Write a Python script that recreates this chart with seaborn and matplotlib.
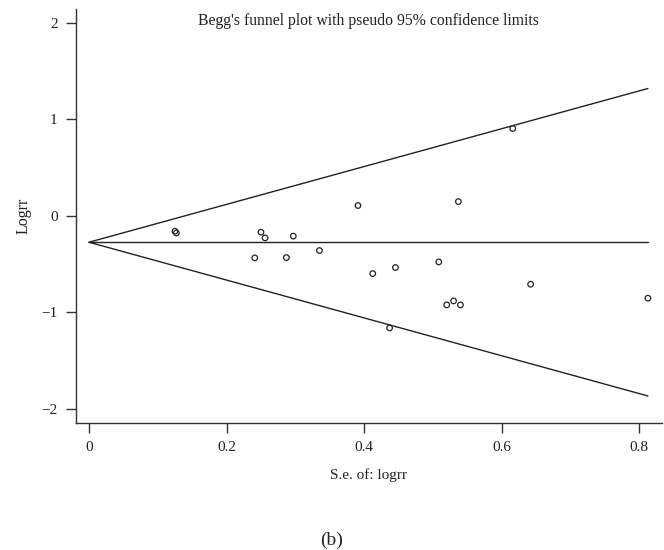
import matplotlib
matplotlib.use("Agg")
import matplotlib.pyplot as plt
import numpy as np
import pandas as pd
import seaborn as sns

# standard errors and log risk ratios
se = [0.125, 0.127, 0.250, 0.256, 0.297, 0.241, 0.287, 0.335, 0.391, 0.537,
      0.616, 0.4125, 0.4455, 0.5085, 0.520, 0.530, 0.540, 0.437, 0.642, 0.8125]
logrr = [-0.159, -0.177, -0.169, -0.228, -0.210, -0.435, -0.432, -0.359, 0.107, 0.148,
         0.905, -0.598, -0.535, -0.477, -0.922, -0.881, -0.922, -1.161, -0.708, -0.853]
pooled = -0.273

x_ticks = [0, 0.2, 0.4, 0.6, 0.8]
x_tick_labels = ["0", "0.2", "0.4", "0.6", "0.8"]
y_ticks = [-2, -1, 0, 1, 2]
y_tick_labels = ["\u22122", "\u22121", "0", "1", "2"]

sns.set_style("ticks")
plt.rcParams["font.family"] = ["Liberation Serif", "DejaVu Serif"]

df = pd.DataFrame({"se": se, "logrr": logrr})

# funnel lines from the pooled estimate out to the largest s.e.
se_line = np.linspace(0, df["se"].max(), 2)
funnel = pd.DataFrame({
    "se": np.concatenate([se_line] * 3),
    "value": np.concatenate([pooled + 1.96 * se_line,
                             np.full_like(se_line, pooled),
                             pooled - 1.96 * se_line]),
    "line": ["upper"] * 2 + ["pooled"] * 2 + ["lower"] * 2,
})

fig = plt.figure(figsize=(6.64, 5.5), dpi=100)
ax = fig.add_axes([0.114, 0.231, 0.883, 0.753])

sns.lineplot(data=funnel, x="se", y="value", units="line", estimator=None,
             color="#222222", linewidth=1.0, ax=ax, legend=False)
sns.scatterplot(data=df, x="se", y="logrr", marker="o", s=16,
                facecolor="none", edgecolor="#222222", linewidth=0.9, ax=ax)

ax.set_xlim(-0.0193, 0.833)
ax.set_ylim(-2.145, 2.145)
ax.set_xticks(x_ticks)
ax.set_xticklabels(x_tick_labels)
ax.set_yticks(y_ticks)
ax.set_yticklabels(y_tick_labels)
ax.tick_params(length=7, width=1.0, color="#333333", labelsize=11,
               labelcolor="#222222", pad=6)
ax.spines["right"].set_visible(False)
ax.spines["top"].set_visible(False)
for side in ["left", "bottom"]:
    ax.spines[side].set_color("#333333")
    ax.spines[side].set_linewidth(1.0)

ax.set_xlabel("S.e. of: logrr", fontsize=11, color="#222222", labelpad=10)
ax.set_ylabel("Logrr", fontsize=11.5, color="#222222", labelpad=7)
ax.text(0.5, 0.99, "Begg's funnel plot with pseudo 95% confidence limits",
        transform=ax.transAxes, ha="center", va="top", fontsize=11.3,
        color="#222222")

fig.text(0.5, 0.018, "(b)", ha="center", va="center", fontsize=14,
         color="#222222")

plt.savefig("out.png", dpi=100)
plt.close(fig)
